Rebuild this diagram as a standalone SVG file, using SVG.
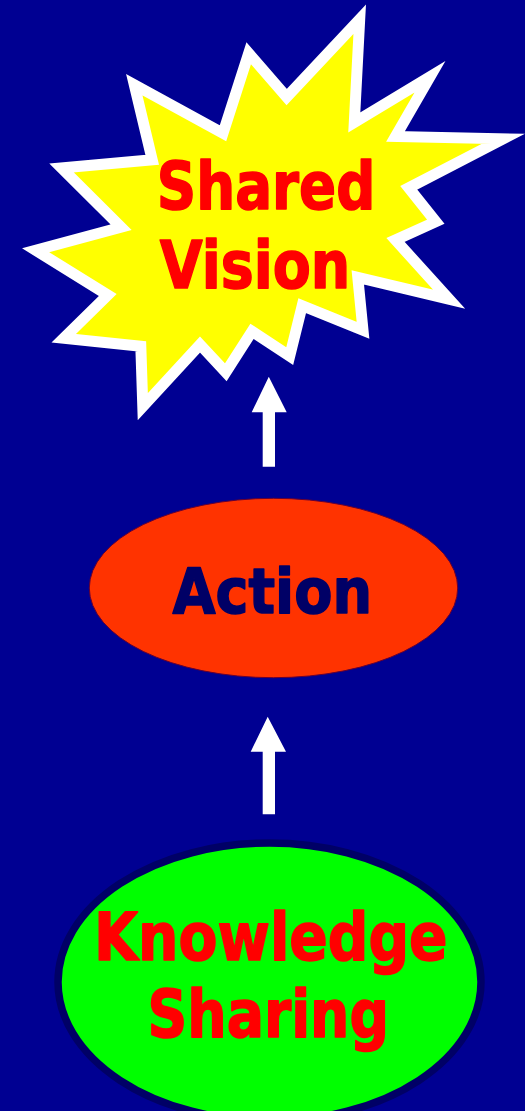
<svg xmlns="http://www.w3.org/2000/svg" width="525" height="1111" viewBox="0 0 525 1111">
<style>
.lbl{font-family:"DejaVu Sans","Liberation Sans",sans-serif;font-weight:bold;stroke-width:1.6;stroke-linejoin:round;}
.red{fill:#FF0000;stroke:#FF0000;}
.navy{fill:#000066;stroke:#000066;}
.arrow{fill:#FFFFFF;}
</style>
<rect x="0" y="0" width="525" height="1111" fill="#000092"/>
<g id="connectors">
<polygon class="arrow" points="268.8,376.7 286.7,412.3 275,412.3 275,466.7 262.7,466.7 262.7,412.3 251.7,412.3"/>
<polygon class="arrow" points="267.7,716.7 286,751.7 275,751.7 275,814.3 262.7,814.3 262.7,751.7 250.7,751.7"/>
</g>
<g id="shared-vision">
<polygon points="359.7,19.2 354.3,122.5 430,76.8 395.5,136.5 503.3,138.8 408.7,187.8 435.8,221.7 395.5,240 449.2,299.2 357.8,277.5 363,330.3 302.2,305.7 289.7,356.2 252,331.3 225.8,372.2 200,344.5 142.8,406.7 140.8,346.2 63.7,338.3 107.8,295 35.7,250.3 121,227.2 61.5,168 152.2,159.8 134.3,84.7 223,133.3 248.7,53.3 286.7,97" fill="#FFFF00" stroke="#FFFFFF" stroke-width="11" stroke-linejoin="miter" stroke-miterlimit="12"/>
<text class="lbl red" x="156.8" y="208.5" font-size="66" textLength="218.5" lengthAdjust="spacingAndGlyphs">Shared</text>
<text class="lbl red" x="159.8" y="287.9" font-size="66" textLength="190.5" lengthAdjust="spacingAndGlyphs">Vision</text>
</g>
<g id="action">
<ellipse cx="273.5" cy="588" rx="184.2" ry="89.7" fill="#FF3300" stroke="#660033" stroke-width="1"/>
<text class="lbl navy" x="172.5" y="612.5" font-size="62" textLength="199.5" lengthAdjust="spacingAndGlyphs">Action</text>
</g>
<g id="knowledge-sharing">
<ellipse cx="269.5" cy="982" rx="211.5" ry="139" fill="#00FF00" stroke="#000066" stroke-width="7.5"/>
<text class="lbl red" x="94.1" y="959.9" font-size="66" textLength="353.5" lengthAdjust="spacingAndGlyphs">Knowledge</text>
<text class="lbl red" x="147.5" y="1036.5" font-size="66" textLength="241.5" lengthAdjust="spacingAndGlyphs">Sharing</text>
</g>
</svg>
